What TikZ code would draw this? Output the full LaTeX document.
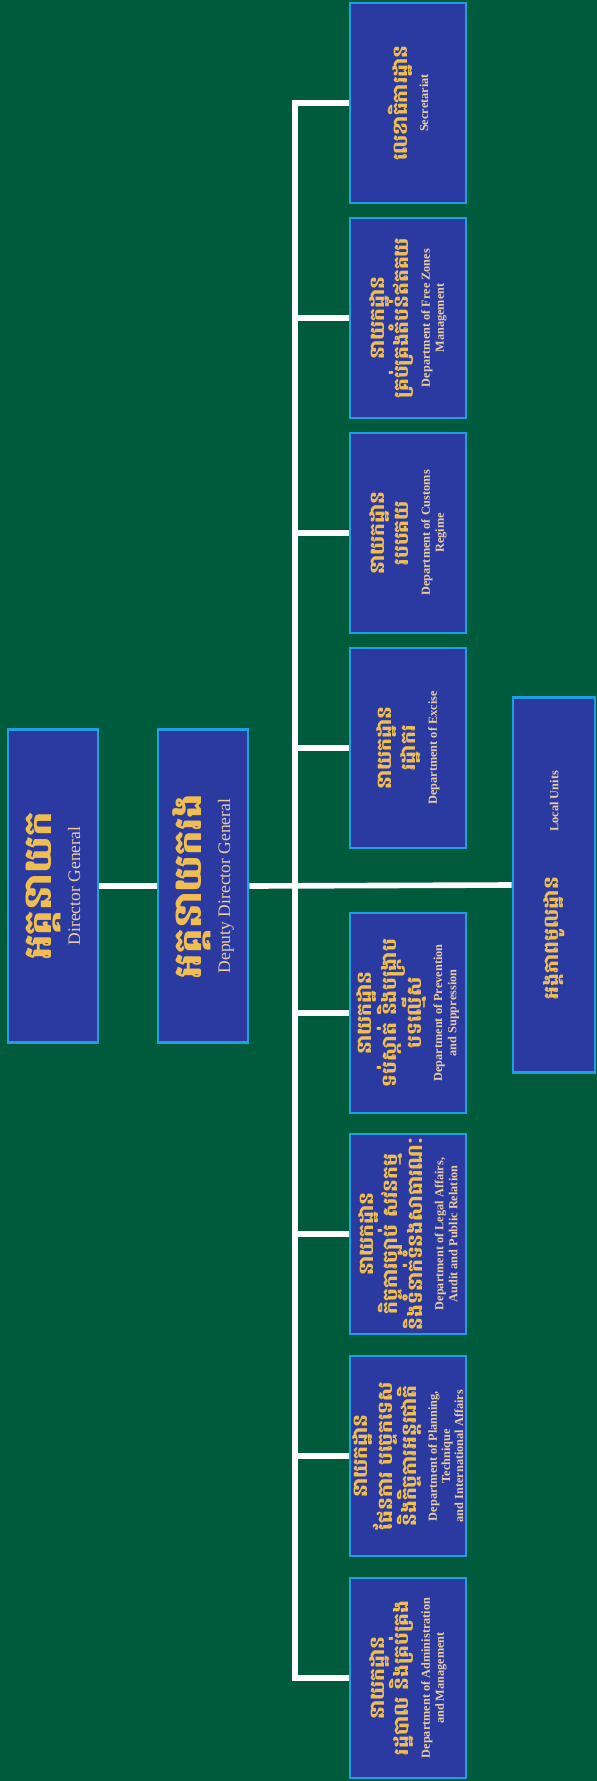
\documentclass[tikz,border=0pt]{standalone}
\usepackage{fontspec}
\setmainfont{Liberation Serif}
\newfontfamily\khmerfont[Script=Khmer]{Battambang}
\usetikzlibrary{positioning}
\definecolor{bggreen}{RGB}{0,90,60}
\definecolor{boxblue}{RGB}{42,58,160}
\definecolor{boxedge}{RGB}{30,160,220}
\definecolor{khmergold}{RGB}{240,190,80}
\definecolor{englishpale}{RGB}{236,205,160}
\newcommand{\khbig}[1]{{\khmerfont\bfseries\fontsize{22}{24}\selectfont\color{khmergold}#1}}
\newcommand{\khsmall}[1]{{\khmerfont\bfseries\fontsize{11.5}{13}\selectfont\color{khmergold}#1}}
\newcommand{\enbig}[1]{{\fontsize{10}{12}\selectfont\color{englishpale}#1}}
\newcommand{\ensmall}[1]{{\bfseries\fontsize{7}{8.5}\selectfont\color{englishpale}#1}}

\begin{document}
\begin{tikzpicture}[
    x=0.02cm, y=-0.02cm,
    box/.style={draw=boxedge, line width=1.6pt, fill=boxblue, rotate=90, align=center, inner sep=1pt},
    headbox/.style={box, minimum width=6.26cm, minimum height=1.8cm,
        font={\fontsize{10}{16.5}\selectfont\lineskiplimit=-100pt}},
    deptbox/.style={box, minimum width=4cm, minimum height=2.32cm,
        font={\fontsize{7}{14}\selectfont\lineskiplimit=-100pt}},
    unitbox/.style={box, minimum width=7.5cm, minimum height=1.64cm},
    link/.style={draw=white, line width=3.2pt}
]
    % background
    \fill[bggreen] (0, 0) rectangle (597, 1781);

    % Director General and deputy
    \node[headbox] (dg) at (53, 886) {\khbig{អគ្គនាយក}\\ \enbig{Director General}};
    \node[headbox] (ddg) at (203, 886) {\khbig{អគ្គនាយករង}\\ \enbig{Deputy Director General}};

    % Local units
    \node[unitbox] (units) at (554, 885) {\khsmall{អង្គភាពមូលដ្ឋាន}\hspace{26pt}\ensmall{Local Units}};

    % Departments
    \node[deptbox] (d_sec) at (408, 103) {\khsmall{លេខាធិការដ្ឋាន}\\[-2pt] \ensmall{Secretariat}};
    \node[deptbox] (d_free) at (408, 318) {\khsmall{នាយកដ្ឋាន}\\ \khsmall{គ្រប់គ្រងតំបន់ឥតគយ}\\[-2pt] \ensmall{Department of Free Zones}\\[-6pt] \ensmall{Management}};
    \node[deptbox] (d_cus) at (408, 533) {\khsmall{នាយកដ្ឋាន}\\ \khsmall{របបគយ}\\[-2pt] \ensmall{Department of Customs}\\[-6pt] \ensmall{Regime}};
    \node[deptbox] (d_exc) at (408, 748) {\khsmall{នាយកដ្ឋាន}\\ \khsmall{រដ្ឋាករ}\\[-2pt] \ensmall{Department of Excise}};
    \node[deptbox] (d_prev) at (408, 1013) {\khsmall{នាយកដ្ឋាន}\\ \khsmall{ទប់ស្កាត់ និងបង្ក្រាប}\\ \khsmall{បទល្មើស}\\[-2pt] \ensmall{Department of Prevention}\\[-6pt] \ensmall{and Suppression}};
    \node[deptbox] (d_legal) at (408, 1234) {\khsmall{នាយកដ្ឋាន}\\ \khsmall{កិច្ចការច្បាប់ សវនកម្ម}\\ \khsmall{និងទំនាក់ទំនងសាធារណៈ}\\[-2pt] \ensmall{Department of Legal Affairs,}\\[-6pt] \ensmall{Audit and Public Relation}};
    \node[deptbox] (d_plan) at (408, 1456) {\khsmall{នាយកដ្ឋាន}\\ \khsmall{ផែនការ បច្ចេកទេស}\\ \khsmall{និងកិច្ចការអន្តរជាតិ}\\[-2.5pt] \ensmall{Department of Planning,}\\[-6.5pt] \ensmall{Technique}\\[-6.5pt] \ensmall{and International Affairs}};
    \node[deptbox] (d_adm) at (408, 1678) {\khsmall{នាយកដ្ឋាន}\\ \khsmall{រដ្ឋបាល និងគ្រប់គ្រង}\\[-2pt] \ensmall{Department of Administration}\\[-6pt] \ensmall{and Management}};

    % Connectors
    \coordinate (trunk) at (295, 886);
    \draw[link] (dg.south) -- (ddg.north);
    \draw[link] (ddg.south) -- (units.north);
    \draw[link, line cap=rect] (d_sec.north -| trunk) -- (d_adm.north -| trunk);
    \foreach \d in {d_sec, d_free, d_cus, d_exc, d_prev, d_legal, d_plan, d_adm} {
        \draw[link] (\d.north -| trunk) -- (\d.north);
    }

\end{tikzpicture}
\end{document}
